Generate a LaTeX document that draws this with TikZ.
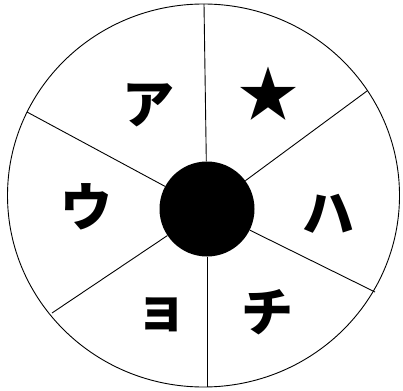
\documentclass[tikz,border=0pt]{standalone}
\usepackage{fontspec}
\newfontfamily\jpfont{Noto Sans CJK JP}
\usepackage{tikz}

\tikzset{
  spoke/.style={line width=0.9pt},
  kana/.style={font=\jpfont\bfseries\fontsize{52}{52}\selectfont, inner sep=0pt}
}

\begin{document}
\begin{tikzpicture}[x=1pt,y=-1pt]
  \useasboundingbox (0,0) rectangle (403,390);
  % outer rim
  \draw[line width=0.9pt] (203.5,195.5) ellipse [x radius=196, y radius=191.5];
  % hub and rim points
  \node[circle,fill=black,minimum size=95pt,inner sep=0pt] (hub) at (207,209) {};
  \coordinate (rimN)  at (204,4);
  \coordinate (rimNE) at (367,91);
  \coordinate (rimSE) at (375,292);
  \coordinate (rimS)  at (207,387);
  \coordinate (rimSW) at (52,313);
  \coordinate (rimNW) at (27,112);
  \foreach \p in {rimN,rimNE,rimSE,rimS,rimSW,rimNW} \draw[spoke] (hub) -- (\p);
  % sector labels
  \node[kana] (lblA)    at (148,105) {ア};
  \node[kana,font=\jpfont\fontsize{60}{60}\selectfont] (lblStar) at (268,94) {★};
  \node[kana] (lblHa)   at (328,214) {ハ};
  \node[kana] (lblChi)  at (267,312) {チ};
  \node[kana] (lblYo)   at (161,315) {ョ};
  \node[kana] (lblU)    at (86,207)  {ウ};
\end{tikzpicture}
\end{document}
